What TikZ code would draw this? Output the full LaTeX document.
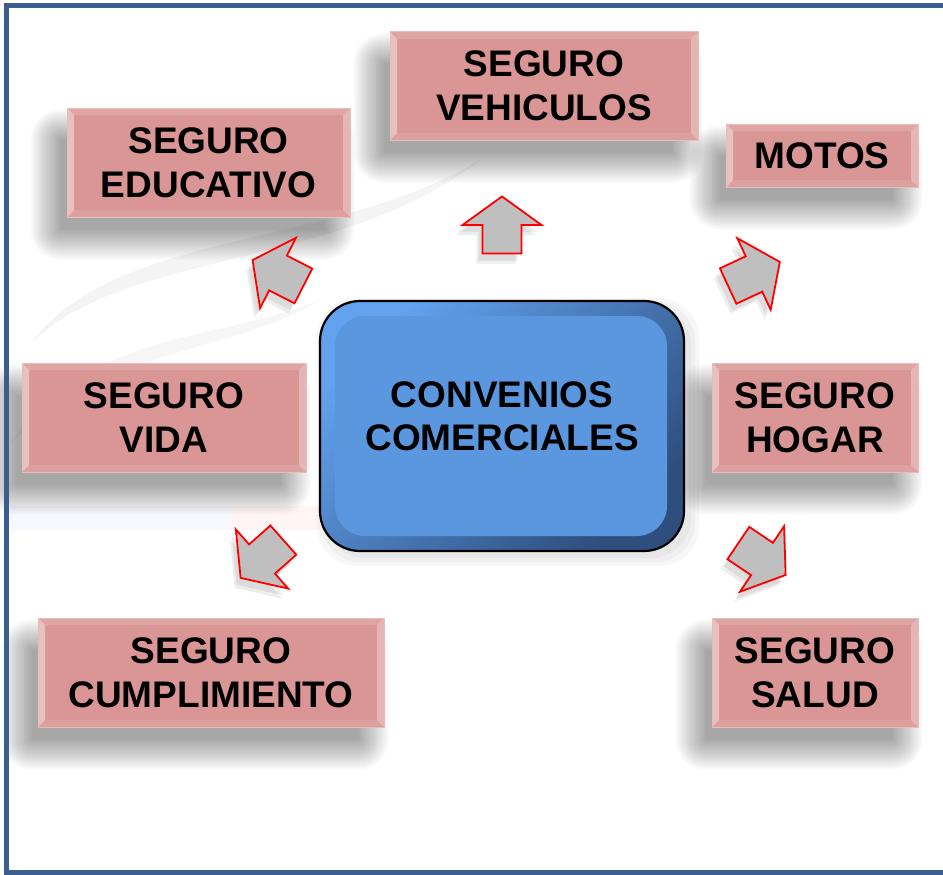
\documentclass[tikz,border=0pt]{standalone}
\usepackage{fontspec}
\setmainfont{Liberation Sans}
\usetikzlibrary{calc,backgrounds}

\definecolor{rosa}{HTML}{D99694}
\definecolor{rosaborde}{HTML}{E8BCBB}
\definecolor{azul}{HTML}{5B97DF}
\definecolor{azulclaro}{HTML}{62A2EE}
\definecolor{azuloscuro}{HTML}{2E4E7E}
\definecolor{marco}{HTML}{3B5E8F}
\definecolor{gris}{HTML}{BFBFBF}

% sombra difusa detras de una caja
\newcommand{\sombra}[1]{%
  \foreach \g in {0,2,...,30}
    \fill[black,opacity=.022,rounded corners=\g pt]
      ($(#1.north west)+(-16-\g+10,22-\g+10)$) rectangle ($(#1.south east)+(-16+\g-10,22+\g-10)$);}

\begin{document}
\begin{tikzpicture}[x=1pt,y=-1pt,
  seguro/.style = {draw=rosaborde, line width=1pt, fill=rosa, align=center, inner sep=0pt,
    font=\fontsize{37}{44}\selectfont\bfseries,
    path picture={
      \coordinate (nw) at (path picture bounding box.north west);
      \coordinate (se) at (path picture bounding box.south east);
      \fill[white,opacity=.4] (nw) -- ++(7,7) -- ($(nw|-se)+(7,-7)$) -- (nw|-se) -- cycle;
      \fill[white,opacity=.3] (nw-|se) -- ($(nw-|se)+(-7,7)$) -- ($(se)+(-7,-7)$) -- (se) -- cycle;
      \fill[white,opacity=.15] (nw) -- ++(7,7) -- ($(nw-|se)+(-7,7)$) -- (nw-|se) -- cycle;
      \fill[white,opacity=.1] (nw|-se) -- ($(nw|-se)+(7,-7)$) -- ($(se)+(-7,-7)$) -- (se) -- cycle;}},
  centro/.style = {draw=black, line width=2.2pt, rounded corners=40pt,
    top color=azulclaro, bottom color=azuloscuro, shading angle=45,
    minimum width=364, minimum height=250,
    path picture={
      \fill[azul, rounded corners=30pt]
        ($(path picture bounding box.north west)+(15,15)$) rectangle
        ($(path picture bounding box.south east)+(-17,-15)$);}},
  texto/.style = {align=center, font=\fontsize{37}{43}\selectfont\bfseries},
  flechabase/.style = {draw=red, line width=1.8pt, fill=gris, line join=miter},
  pics/flecha/.style = {code={
    \path[#1] (-28.5,-19.5) -- (0,-19.5) -- (0,-39.5) -- (28.5,0) -- (0,39.5) -- (0,19.5) -- (-28.5,19.5) -- cycle;}}]

\useasboundingbox (0,0) rectangle (943,875);

% caja central
\node[centro] (conv) at (502,426) {};
\node[texto] (convtxt) at ([yshift=10]conv.center) {CONVENIOS\\COMERCIALES};

% seguros
\node[seguro, minimum width=308, minimum height=108] (veh) at (544,86) {SEGURO\\VEHICULOS};
\node[seguro, minimum width=283, minimum height=109] (edu) at (208.5,162.5) {SEGURO\\EDUCATIVO};
\node[seguro, minimum width=192, minimum height=63] (motos) at (822,155.5) {MOTOS};
\node[seguro, minimum width=284, minimum height=109] (vida) at (164,417.5) {SEGURO\\VIDA};
\node[seguro, minimum width=206, minimum height=109] (hogar) at (815,417.5) {SEGURO\\HOGAR};
\node[seguro, minimum width=346, minimum height=109] (cump) at (211,672.5) {SEGURO\\CUMPLIMIENTO};
\node[seguro, minimum width=206, minimum height=109] (salud) at (815,672.5) {SEGURO\\SALUD};

% flechas
\foreach \cx/\cy/\ang in {502/225/90, 278/273/153, 754/274/25, 262/559/221.5, 762/559/-34}{
  \pic[rotate=\ang] at (\cx-6,\cy+10) {flecha={fill=black,opacity=.07}};
  \pic[rotate=\ang] at (\cx-4,\cy+7) {flecha={fill=black,opacity=.07}};
  \pic[rotate=\ang] at (\cx,\cy) {flecha=flechabase};
}

\begin{scope}[on background layer]
  \fill[white] (0,0) rectangle (943,875);
  % marca de agua
  \fill[gray!9] (30,345) .. controls (110,230) and (330,250) .. (480,160)
    .. controls (340,270) and (120,250) .. (30,345) -- cycle;
  \fill[gray!7] (10,445) .. controls (80,330) and (230,340) .. (320,300)
    .. controls (230,355) and (90,350) .. (10,445) -- cycle;
  \fill[blue!3] (10,506) rectangle (330,530);
  \fill[red!4] (230,506) rectangle (325,530);
  \foreach \n in {veh,edu,motos,vida,hogar,cump,salud} {\sombra{\n}}
  \foreach \g in {0,4,8}
    \fill[black,opacity=.03,rounded corners=40pt]
      ($(conv.north west)+(6-\g,6-\g)$) rectangle ($(conv.south east)+(6+\g,6+\g)$);
\end{scope}

% marco
\draw[marco, line width=4.5pt] (6.5,5.5) rectangle (960,872.5);
\end{tikzpicture}
\end{document}
